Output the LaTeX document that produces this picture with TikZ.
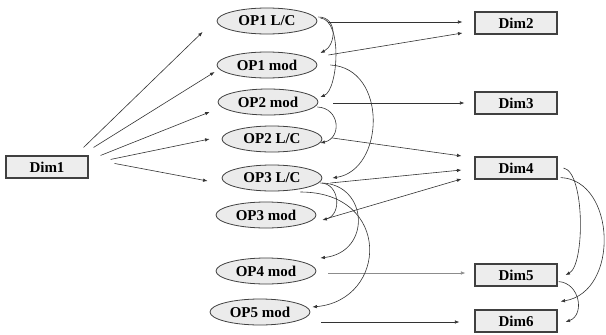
\documentclass[tikz,border=0pt]{standalone}
\usepackage{fontspec}
\setmainfont{Liberation Serif}
\usetikzlibrary{shapes.geometric,arrows.meta,calc}
\begin{document}
\begin{tikzpicture}[x=1pt,y=-1pt,
  box/.style={draw=black!75,line width=1.1pt,fill=black!7,minimum width=82pt,minimum height=22pt,inner sep=0pt,font=\fontsize{15}{17}\selectfont\bfseries},
  oval/.style={ellipse,draw=black!75,line width=0.8pt,fill=black!8,minimum width=100pt,minimum height=26pt,inner sep=0pt,font=\fontsize{15}{17}\selectfont\bfseries},
  arr/.style={draw=black!80,line width=0.6pt,-{Latex[length=4.5pt,width=3.5pt]}},
  lightarr/.style={arr,draw=black!45},
  ]
\fill[white] (0,0) rectangle (606,335);
\useasboundingbox (0,0) rectangle (606,335);
% nodes
\node[box] (dim1) at (47,167) {Dim1};
\node[box] (dim2) at (516,23) {Dim2};
\node[box] (dim3) at (516,103) {Dim3};
\node[box] (dim4) at (516,168) {Dim4};
\node[box] (dim5) at (516,275) {Dim5};
\node[box] (dim6) at (516,321) {Dim6};
\node[oval] (op1lc) at (267,21) {OP1 L/C};
\node[oval] (op1mod) at (267,65) {OP1 mod};
\node[oval] (op2mod) at (268,102) {OP2 mod};
\node[oval] (op2lc) at (272,139) {OP2 L/C};
\node[oval] (op3lc) at (272,178) {OP3 L/C};
\node[oval] (op3mod) at (266,215) {OP3 mod};
\node[oval] (op4mod) at (266,271) {OP4 mod};
\node[oval] (op5mod) at (260,312) {OP5 mod};
% Dim1 fan
\draw[arr] ($(dim1.north east)+(-5,-8)$) -- ($(op1lc.west)+(-14,11)$);
\draw[arr] ($(dim1.north east)+(5,-8)$) -- ($(op1mod.west)+(-2,7)$);
\draw[arr] ($(dim1.north east)+(12,0)$) -- ($(op2mod.west)+(-8,10)$);
\draw[arr] ($(dim1.north east)+(22,4)$) -- ($(op2lc.west)+(-12,0)$);
\draw[arr] ($(dim1.north east)+(26,8)$) -- ($(op3lc.west)+(-14,3)$);
% straight arrows to the right
\draw[arr] ($(op1lc.east)+(11,1)$) -- ($(dim2.west)+(-12,-1)$);
\draw[arr] ($(op1mod.east)+(11,-10)$) -- ($(dim2.west)+(-12,10)$);
\draw[arr] ($(op2mod.east)+(15,1)$) -- ($(dim3.west)+(-10,0)$);
\draw[arr] ($(op2lc.east)+(10,-1)$) -- ($(dim4.west)+(-13,-12)$);
\draw[arr] ($(op3lc.east)+(8,5)$) -- ($(dim4.west)+(-13,2)$);
\draw[arr] ($(op3mod.east)+(9,4)$) -- ($(dim4.west)+(-13,11)$);
\draw[lightarr] ($(op4mod.east)+(12,2)$) -- ($(dim5.west)+(-9,-2)$);
\draw[arr] ($(op5mod.east)+(11,10)$) -- ($(dim6.west)+(-15,1)$);
% curved arrows among the ovals
\draw[arr] ($(op1lc.east)+(1,-4)$) .. controls (338,17) and (336,45) .. ($(op1mod.east)+(3,-12)$);
\draw[arr] ($(op1lc.east)+(3,-3)$) .. controls (343,20) and (338,90) .. ($(op2mod.east)+(2,-5)$);
\draw[arr] ($(op1mod.east)+(13,0)$) .. controls (388,68) and (385,170) .. ($(op3lc.east)+(10,0)$);
\draw[arr] ($(op2mod.east)+(-1,5)$) .. controls (340,108) and (342,138) .. ($(op2lc.east)+(-2,4)$);
\draw[arr] ($(op3lc.east)+(-2,5)$) .. controls (340,183) and (342,215) .. ($(op3mod.east)+(6,5)$);
\draw[arr] ($(op3lc.east)+(0,5)$) .. controls (368,185) and (372,252) .. ($(op4mod.east)+(4,-13)$);
\draw[arr] ($(op3lc.east)+(-22,14)$) .. controls (392,192) and (388,300) .. ($(op5mod.east)+(2,-5)$);
% curved arrows among the Dim boxes
\draw[arr] ($(dim4.east)+(6,0)$) .. controls (585,172) and (585,265) .. ($(dim5.east)+(8,0)$);
\draw[arr] ($(dim4.south east)+(3,-2)$) .. controls (616,180) and (620,292) .. ($(dim6.north east)+(3,-8)$);
\draw[arr] ($(dim5.south east)+(1,-5)$) .. controls (580,283) and (585,315) .. ($(dim6.east)+(8,1)$);
\end{tikzpicture}
\end{document}
